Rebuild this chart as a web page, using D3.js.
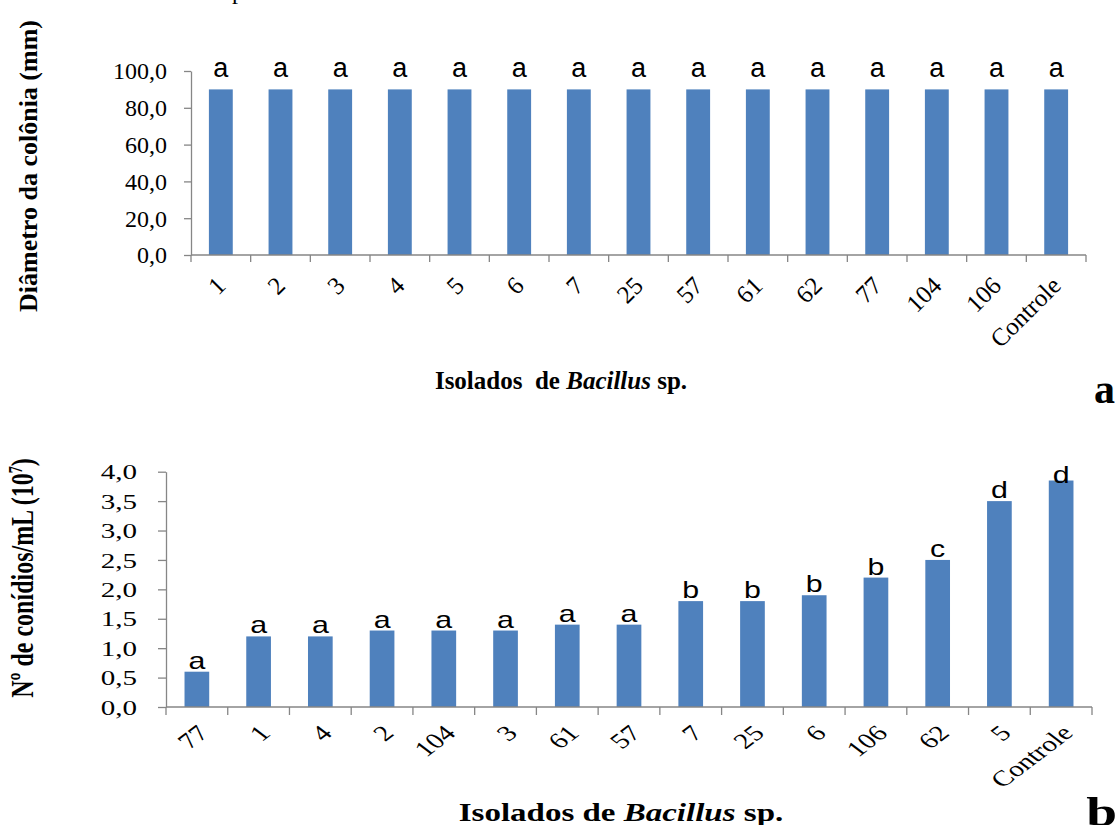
<!DOCTYPE html>
<html>
<head>
<meta charset="utf-8">
<script src="https://cdn.jsdelivr.net/npm/d3@7"></script>
<style>
  html, body { margin: 0; padding: 0; background: #fff; }
  svg { display: block; }
</style>
</head>
<body>
<svg id="fig" width="1117" height="825"></svg>
<script>
// Panel a: colony diameter (mm) per Bacillus isolate
const catsA = ["1", "2", "3", "4", "5", "6", "7", "25", "57", "61", "62", "77", "104", "106", "Controle"];
const valsA = [90, 90, 90, 90, 90, 90, 90, 90, 90, 90, 90, 90, 90, 90, 90];
const lettersA = ["a", "a", "a", "a", "a", "a", "a", "a", "a", "a", "a", "a", "a", "a", "a"];
const ticksA = [0, 20, 40, 60, 80, 100];

// Panel b: conidia per mL (x10^7) per Bacillus isolate
const catsB = ["77", "1", "4", "2", "104", "3", "61", "57", "7", "25", "6", "106", "62", "5", "Controle"];
const valsB = [0.6, 1.2, 1.2, 1.3, 1.3, 1.3, 1.4, 1.4, 1.8, 1.8, 1.9, 2.2, 2.5, 3.5, 3.85];
const lettersB = ["a", "a", "a", "a", "a", "a", "a", "a", "b", "b", "b", "b", "c", "d", "d"];
const ticksB = [0, 0.5, 1.0, 1.5, 2.0, 2.5, 3.0, 3.5, 4.0];

const BAR = "#4F81BD";
const AXIS = "#868686";
const SERIF = "'Liberation Serif', 'Times New Roman', serif";
const SANS = "'Liberation Sans', Arial, sans-serif";
const fmt = v => d3.format(".1f")(v).replace(".", ",");

const svg = d3.select("#fig");

// cut-off caption line above the figure
svg.append("text").attr("x", 232).attr("y", -1)
  .attr("font-family", SERIF).attr("font-size", 24).text("p");

function drawPanel(o) {
  const g = svg.append("g");
  const x = d3.scaleBand().domain(o.cats).range([o.x0, o.x1]).padding(0);
  const y = d3.scaleLinear().domain(o.yDomain).range([o.yBottom, o.yTop]);
  const bw = x.bandwidth() * 0.4;
  const sx = o.sx;

  // bars
  g.selectAll("rect.bar").data(o.vals).join("rect")
    .attr("class", "bar")
    .attr("x", (d, i) => x(o.cats[i]) + x.bandwidth() / 2 - bw / 2)
    .attr("width", bw)
    .attr("y", d => y(d))
    .attr("height", d => y(0) - y(d))
    .attr("fill", BAR);

  // y axis
  const ya = g.append("g").attr("transform", `translate(${o.x0},0)`)
    .call(d3.axisLeft(y).tickValues(o.ticks).tickSize(o.tick).tickSizeOuter(0).tickPadding(0).tickFormat(""));
  ya.select(".domain").attr("stroke", AXIS).attr("stroke-width", 1.3);
  ya.selectAll(".tick line").attr("stroke", AXIS).attr("stroke-width", 1.3);
  g.selectAll("text.ytick").data(o.ticks).join("text")
    .attr("class", "ytick")
    .attr("transform", d => `translate(${o.x0 - o.yLabelGap},${y(d)}) scale(${sx},1)`)
    .attr("dy", "0.35em")
    .attr("text-anchor", "end")
    .attr("font-family", SERIF).attr("font-size", o.tickFont)
    .text(fmt);

  // x axis line with ticks at category boundaries
  const xa = g.append("g").attr("transform", `translate(0,${o.yBottom})`);
  xa.append("line").attr("x1", o.x0).attr("x2", o.x1)
    .attr("stroke", AXIS).attr("stroke-width", 1.3);
  const bounds = o.cats.map(c => x(c)).concat([o.x1]);
  xa.selectAll("line.xt").data(bounds).join("line")
    .attr("class", "xt")
    .attr("x1", d => d).attr("x2", d => d)
    .attr("y1", 0).attr("y2", o.tick)
    .attr("stroke", AXIS).attr("stroke-width", 1.3);

  // rotated category labels
  g.selectAll("text.xlab").data(o.cats).join("text")
    .attr("class", "xlab")
    .attr("transform", c => `translate(${x(c) + x.bandwidth() / 2 + o.xlabDx},${o.yBottom + o.xlabDy}) scale(${sx},1) rotate(-45)`)
    .attr("dy", "0.35em")
    .attr("text-anchor", "end")
    .attr("font-family", SERIF).attr("font-size", o.xlabFont)
    .text(c => c);

  // significance letters above bars
  g.selectAll("text.sig").data(o.vals).join("text")
    .attr("class", "sig")
    .attr("transform", (d, i) => {
      const by = Math.max(y(d) - o.sigGap, o.yTop + o.sigMinTop);
      return `translate(${x(o.cats[i]) + x.bandwidth() / 2},${by}) scale(${sx},1)`;
    })
    .attr("text-anchor", "middle")
    .attr("font-family", SANS).attr("font-size", o.sigFont)
    .text((d, i) => o.letters[i]);

  // y axis title
  const yt = g.append("text")
    .attr("transform", `translate(${o.yTitleX},${o.yTitleY}) scale(${sx},1) rotate(-90)`)
    .attr("text-anchor", "middle")
    .attr("font-family", SERIF).attr("font-weight", "bold").attr("font-size", o.yTitleFont);
  o.yTitle(yt);

  // x axis title
  const xt = g.append("text")
    .attr("transform", `translate(${o.xTitleX},${o.xTitleY}) scale(${sx},1)`)
    .attr("text-anchor", "middle")
    .attr("font-family", SERIF).attr("font-weight", "bold").attr("font-size", o.xTitleFont)
    .attr("xml:space", "preserve")
    .style("white-space", "pre");
  xt.append("tspan").text(o.xTitleParts[0]);
  xt.append("tspan").attr("font-style", "italic").text("Bacillus");
  xt.append("tspan").text(" sp.");

  // panel letter
  g.append("text")
    .attr("transform", `translate(${o.panelX},${o.panelY}) scale(${sx},1)`)
    .attr("text-anchor", "end")
    .attr("font-family", SERIF).attr("font-weight", "bold").attr("font-size", 42)
    .text(o.panel);
}

drawPanel({
  cats: catsA, vals: valsA, letters: lettersA, ticks: ticksA,
  yDomain: [0, 100], x0: 191, x1: 1086, yBottom: 255, yTop: 71,
  sx: 1, tick: 7, yLabelGap: 24, tickFont: 24, xlabFont: 25,
  xlabDx: 0, xlabDy: 26,
  sigGap: 12, sigMinTop: -30, sigFont: 27,
  yTitleX: 37, yTitleY: 166, yTitleFont: 26,
  yTitle: t => t.text("Diâmetro da colônia (mm)"),
  xTitleX: 561, xTitleY: 389, xTitleFont: 25, xTitleParts: ["Isolados  de "],
  panel: "a", panelX: 1115, panelY: 403
});

drawPanel({
  cats: catsB, vals: valsB, letters: lettersB, ticks: ticksB,
  yDomain: [0, 4], x0: 166, x1: 1092, yBottom: 707, yTop: 471.7,
  sx: 1.32, tick: 8, yLabelGap: 29, tickFont: 22, xlabFont: 22,
  xlabDx: 6, xlabDy: 22,
  sigGap: 3, sigMinTop: 11, sigFont: 23,
  yTitleX: 33, yTitleY: 578, yTitleFont: 24,
  yTitle: t => {
    t.append("tspan").text("Nº de conídios/mL (10");
    t.append("tspan").attr("font-size", 14).attr("dy", "-0.6em").text("7");
    t.append("tspan").attr("dy", "0.35em").text(")");
  },
  xTitleX: 621, xTitleY: 821, xTitleFont: 25, xTitleParts: ["Isolados de "],
  panel: "b", panelX: 1117, panelY: 826
});
</script>
</body>
</html>
